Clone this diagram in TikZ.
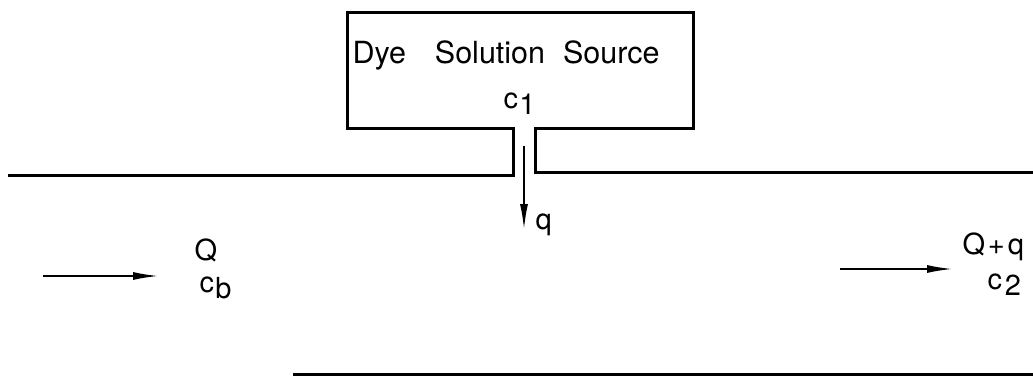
\documentclass[tikz,border=0pt]{standalone}
\usepackage{fontspec}
\setmainfont{TeX Gyre Heros}
\usetikzlibrary{arrows.meta}

\tikzset{every picture/.style={line width=3pt}}
\tikzset{
  wall/.style={line width=3pt, line join=miter},
  flow/.style={line width=2pt, -{Latex[length=26pt,width=8pt]}},
  lbl/.style={inner sep=0pt, font=\fontsize{29}{34}\selectfont},
}
\newcommand{\lowidx}[2]{#1\raisebox{-0.4ex}{#2}}

\begin{document}
\begin{tikzpicture}[x=1pt,y=1pt,yscale=-1,xscale=1]
\useasboundingbox (0,0) rectangle (1033,378);

%Shape: source box with pipe and channel top [id:box]
\draw [wall] (8,175) -- (513,175) -- (513,128) -- (347,128) -- (347,12) -- (693,12) -- (693,128) -- (535,128) -- (535,172) -- (1033,172) ;
%Shape: channel bottom [id:bed]
\draw [wall] (293,374) -- (1033,374) ;

% Text Node
\node (src) [lbl, font=\fontsize{30.5}{36}\selectfont, anchor=base west] at (351,63) {Dye\hspace{29pt}Solution\hspace{18pt}Source};
% Text Node
\node (cone) [lbl, anchor=base west] at (502,108) {\lowidx{c}{\kern0.05em 1}};
% Text Node
\node (qlab) [lbl, anchor=base west] at (534,229) {q};
% Text Node
\node (Qin) [lbl, anchor=base west] at (193,260) {Q};
% Text Node
\node (cb) [lbl, anchor=base west] at (198,292) {\lowidx{c}{\kern0.05em b}};
% Text Node
\node (Qout) [lbl, anchor=base west] at (961,254) {Q\hspace{0.1em}+\hspace{0.1em}q};
% Text Node
\node (ctwo) [lbl, anchor=base west] at (986,289) {\lowidx{c}{\kern0.1em 2}};

\coordinate (qtop) at (524,146);
\coordinate (qtip) at (524,230);
\coordinate (lin) at (43,276);
\coordinate (lout) at (159,276);
\coordinate (rin) at (840,269);
\coordinate (rout) at (953,269);

\draw [flow] (qtop) -- (qtip) ;
\draw [flow] (lin) -- (lout) ;
\draw [flow] (rin) -- (rout) ;

\end{tikzpicture}
\end{document}
